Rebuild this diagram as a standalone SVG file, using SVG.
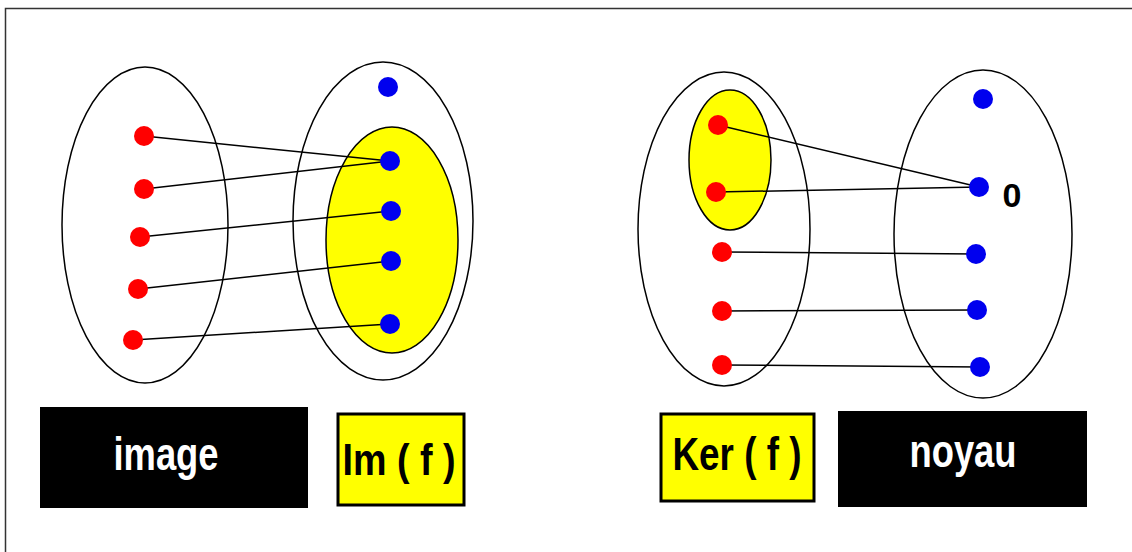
<svg xmlns="http://www.w3.org/2000/svg" width="1132" height="552" viewBox="0 0 1132 552">
<style>
.set{fill:none;stroke:#000;stroke-width:1.5}
.sub{fill:#ffff00;stroke:#000;stroke-width:1.5}
.r{fill:#ff0000}
.b{fill:#0000ee}
.ln{stroke:#000;stroke-width:1.5;fill:none}
.lbl{font-family:"Liberation Sans",Arial,sans-serif;font-weight:bold;text-anchor:middle}
</style>
<rect x="0" y="0" width="1132" height="552" fill="#fff"/>
<rect x="5.5" y="8.5" width="1140" height="560" fill="none" stroke="#333" stroke-width="1.5"/>

<g id="image-diagram">
  <ellipse class="set" cx="145" cy="225" rx="83" ry="158"/>
  <ellipse class="set" cx="383" cy="221" rx="90" ry="159"/>
  <ellipse class="sub" cx="392" cy="240" rx="66" ry="113"/>
</g>

<g id="kernel-diagram">
  <ellipse class="set" cx="724" cy="229" rx="86" ry="157"/>
  <ellipse class="sub" cx="730" cy="160" rx="41" ry="70"/>
  <ellipse class="set" cx="983" cy="234" rx="89" ry="164"/>
</g>

<g id="connectors">
  <line class="ln" x1="144" y1="136" x2="390" y2="161"/>
  <line class="ln" x1="144" y1="189" x2="390" y2="161"/>
  <line class="ln" x1="140" y1="237" x2="391" y2="211"/>
  <line class="ln" x1="138" y1="289" x2="391" y2="261"/>
  <line class="ln" x1="133" y1="340" x2="390" y2="324"/>
  <line class="ln" x1="718" y1="125" x2="979" y2="187"/>
  <line class="ln" x1="716" y1="192" x2="979" y2="187"/>
  <line class="ln" x1="722" y1="252" x2="976" y2="254"/>
  <line class="ln" x1="722" y1="311" x2="977" y2="310"/>
  <line class="ln" x1="722" y1="365" x2="980" y2="367"/>
</g>

<g id="image-points">
  <circle class="r" cx="144" cy="136" r="10"/>
  <circle class="r" cx="144" cy="189" r="10"/>
  <circle class="r" cx="140" cy="237" r="10"/>
  <circle class="r" cx="138" cy="289" r="10"/>
  <circle class="r" cx="133" cy="340" r="10"/>
  <circle class="b" cx="388" cy="87" r="10"/>
  <circle class="b" cx="390" cy="161" r="10"/>
  <circle class="b" cx="391" cy="211" r="10"/>
  <circle class="b" cx="391" cy="261" r="10"/>
  <circle class="b" cx="390" cy="324" r="10"/>
</g>

<g id="kernel-points">
  <circle class="r" cx="718" cy="125" r="10"/>
  <circle class="r" cx="716" cy="192" r="10"/>
  <circle class="r" cx="722" cy="252" r="10"/>
  <circle class="r" cx="722" cy="311" r="10"/>
  <circle class="r" cx="722" cy="365" r="10"/>
  <circle class="b" cx="983" cy="99" r="10"/>
  <circle class="b" cx="979" cy="187" r="10"/>
  <circle class="b" cx="976" cy="254" r="10"/>
  <circle class="b" cx="977" cy="310" r="10"/>
  <circle class="b" cx="980" cy="367" r="10"/>
  <text class="lbl" x="1012" y="207" font-size="34">0</text>
</g>

<g id="label-image">
  <rect x="40" y="407" width="268" height="101" fill="#000"/>
  <text class="lbl" x="166" y="470" font-size="46" fill="#fff" textLength="105" lengthAdjust="spacingAndGlyphs">image</text>
</g>

<g id="label-im">
  <rect x="338" y="414" width="126" height="91" fill="#ffff00" stroke="#000" stroke-width="3"/>
  <text class="lbl" x="399" y="475" font-size="44" fill="#000" textLength="113" lengthAdjust="spacingAndGlyphs">Im ( f )</text>
</g>

<g id="label-ker">
  <rect x="661" y="414" width="153" height="87" fill="#ffff00" stroke="#000" stroke-width="3"/>
  <text class="lbl" x="737" y="470" font-size="46" fill="#000" textLength="129" lengthAdjust="spacingAndGlyphs">Ker ( f )</text>
</g>

<g id="label-noyau">
  <rect x="838" y="411" width="249" height="96" fill="#000"/>
  <text class="lbl" x="963" y="467" font-size="46" fill="#fff" textLength="107" lengthAdjust="spacingAndGlyphs">noyau</text>
</g>
</svg>
